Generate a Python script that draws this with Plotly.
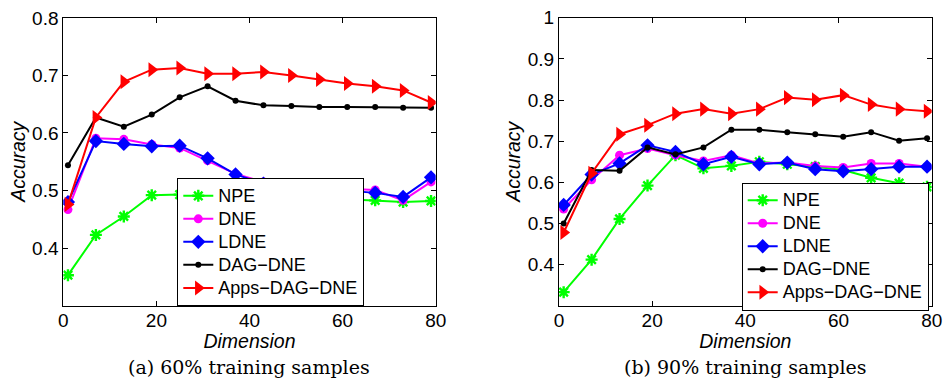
import plotly.graph_objects as go

dims = [1, 7, 13, 19, 25, 31, 37, 43, 49, 55, 61, 67, 73, 79]
series_names = ["NPE", "DNE", "LDNE", "DAG\u2212DNE", "Apps\u2212DAG\u2212DNE"]

# (a) 60% training samples
npe_a = [0.353, 0.423, 0.455, 0.492, 0.493, 0.492, 0.491, 0.490, 0.489, 0.487, 0.485, 0.483, 0.480, 0.482]
dne_a = [0.467, 0.591, 0.589, 0.580, 0.574, 0.552, 0.529, 0.515, 0.510, 0.505, 0.503, 0.501, 0.483, 0.515]
ldne_a = [0.480, 0.586, 0.581, 0.577, 0.578, 0.556, 0.528, 0.512, 0.508, 0.504, 0.500, 0.496, 0.489, 0.523]
dag_a = [0.544, 0.627, 0.611, 0.632, 0.662, 0.681, 0.656, 0.648, 0.647, 0.645, 0.645, 0.645, 0.644, 0.644]
apps_a = [0.476, 0.627, 0.689, 0.710, 0.713, 0.703, 0.703, 0.706, 0.700, 0.693, 0.686, 0.681, 0.674, 0.653]

# (b) 90% training samples
npe_b = [0.333, 0.412, 0.511, 0.592, 0.666, 0.634, 0.640, 0.650, 0.644, 0.638, 0.630, 0.611, 0.598, 0.589]
dne_b = [0.535, 0.606, 0.666, 0.682, 0.666, 0.652, 0.666, 0.646, 0.648, 0.640, 0.636, 0.646, 0.646, 0.638]
ldne_b = [0.545, 0.619, 0.646, 0.690, 0.674, 0.644, 0.662, 0.644, 0.648, 0.632, 0.627, 0.632, 0.638, 0.638]
dag_b = [0.500, 0.630, 0.628, 0.685, 0.668, 0.685, 0.728, 0.728, 0.722, 0.717, 0.711, 0.722, 0.701, 0.707]
apps_b = [0.478, 0.622, 0.717, 0.739, 0.767, 0.778, 0.767, 0.778, 0.806, 0.801, 0.812, 0.789, 0.778, 0.773]

x_ticks = [0, 20, 40, 60, 80]
y_ticks_a = [0.4, 0.5, 0.6, 0.7, 0.8]
y_ticktext_a = ["0.4", "0.5", "0.6", "0.7", "0.8"]
y_ticks_b = [0.4, 0.5, 0.6, 0.7, 0.8, 0.9, 1.0]
y_ticktext_b = ["0.4", "0.5", "0.6", "0.7", "0.8", "0.9", "1"]
captions = ["(a) 60% training samples", "(b) 90% training samples"]

colors = ["#00ff00", "#ff00ff", "#0000ff", "#000000", "#ff0000"]
markers = [
    dict(symbol="asterisk-open", size=10, line=dict(width=2.4)),
    dict(symbol="circle", size=9),
    dict(symbol="diamond", size=11),
    dict(symbol="circle", size=6),
    dict(symbol="triangle-right", size=13),
]

FONT = "Liberation Sans, Arial, Helvetica, sans-serif"
W, H = 943, 383

def fx(px):
    return px / W

def fy(py):
    return (H - py) / H

fig = go.Figure()

def add_panel(data, xa, ya, legend):
    for name, ys, col, mk in zip(series_names, data, colors, markers):
        m = dict(mk)
        m["color"] = col
        if "line" in m:
            m["line"] = dict(m["line"], color=col)
        else:
            m["line"] = dict(width=0)
        fig.add_trace(go.Scatter(
            x=dims, y=ys, name=f"<span style='font-size:18px'>{name}</span>",
            mode="lines+markers",
            line=dict(color=col, width=2), marker=m,
            xaxis=xa, yaxis=ya, legend=legend,
        ))

add_panel([npe_a, dne_a, ldne_a, dag_a, apps_a], "x", "y", "legend")
add_panel([npe_b, dne_b, ldne_b, dag_b, apps_b], "x2", "y2", "legend2")

ydom = [fy(305.7), fy(17.8)]
dom_a = [fx(63.3), fx(435.7)]
dom_b = [fx(559.0), fx(931.7)]

axis_common = dict(
    showline=True, linecolor="black", linewidth=1, mirror="ticks", automargin=False,
    ticks="inside", ticklen=5, tickcolor="black", showgrid=False, zeroline=False,
    ticklabeloverflow="allow",
    tickfont=dict(family=FONT, size=19, color="black"),
)
title_font = dict(family=FONT, size=19.5, color="black")

legend_common = dict(xanchor="left", yanchor="top", bgcolor="white",
                     bordercolor="black", borderwidth=1,
                     font=dict(family=FONT, size=15.4, color="black"))

xt = dict(text="<i>Dimension</i>", font=title_font, standoff=2)
yt = dict(text="<i>Accuracy</i>", font=title_font, standoff=1)

fig.update_layout(
    template="none",
    width=W, height=H, margin=dict(l=0, r=0, t=0, b=0, autoexpand=False),
    paper_bgcolor="white", plot_bgcolor="white",
    xaxis=dict(domain=dom_a, range=[0, 80], tickvals=x_ticks, anchor="y",
               ticklabelstandoff=-3, title=xt, **axis_common),
    yaxis=dict(domain=ydom, range=[0.3, 0.8001], tickvals=y_ticks_a, ticktext=y_ticktext_a,
               anchor="x", title=yt, **axis_common),
    xaxis2=dict(domain=dom_b, range=[0, 80], tickvals=x_ticks, anchor="y2",
                ticklabelstandoff=-3, title=xt, **axis_common),
    yaxis2=dict(domain=ydom, range=[0.3, 1.0001], tickvals=y_ticks_b, ticktext=y_ticktext_b,
                anchor="x2", title=yt, **axis_common),
    legend=dict(x=fx(177.3), y=fy(178.3), **legend_common),
    legend2=dict(x=fx(741.7), y=fy(182.7), **legend_common),
    showlegend=True,
)

for cap, dom in zip(captions, [dom_a, dom_b]):
    fig.add_annotation(
        text=cap, xref="paper", yref="paper",
        x=(dom[0] + dom[1]) / 2, y=fy(367), xanchor="center", yanchor="middle",
        showarrow=False, font=dict(family="DejaVu Serif, Liberation Serif, serif", size=19, color="black"),
    )

fig.write_html(
    "out.html",
    config={"displayModeBar": False},
    post_script="document.body.style.margin='0';document.body.style.overflow='hidden';",
)
